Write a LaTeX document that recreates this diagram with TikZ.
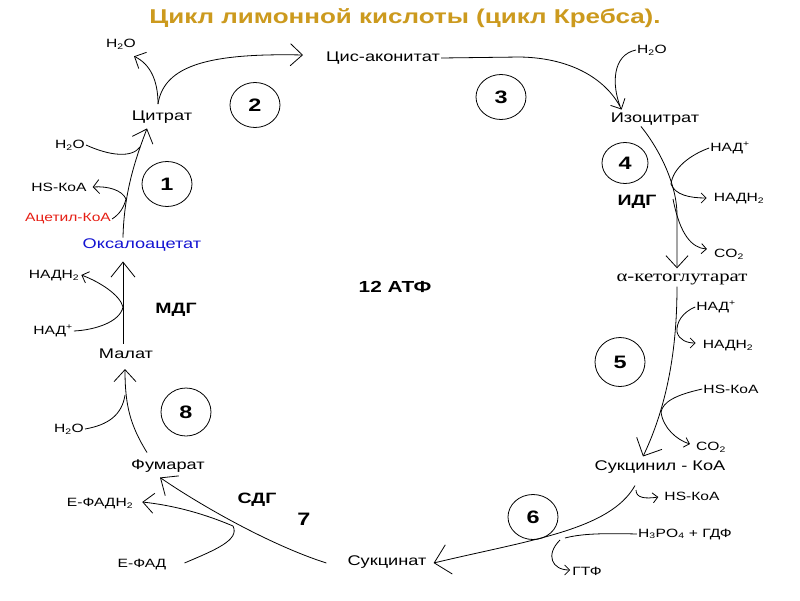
\documentclass[tikz,border=0pt]{standalone}
\usepackage{fontspec}
\setmainfont{Liberation Sans}[FakeStretch=1.3]
\newfontfamily\akgfont{Liberation Serif}[FakeStretch=1.3]
\usetikzlibrary{arrows.meta,shapes.geometric,calc}
\definecolor{titlecol}{RGB}{204,154,30}
\definecolor{acetred}{RGB}{230,30,20}
\definecolor{oxablue}{RGB}{20,20,210}
\begin{document}
\begin{tikzpicture}[x=1pt,y=-1pt,
  lab/.style={inner sep=1pt,font=\fontsize{14}{16}\selectfont},
  sm/.style={inner sep=1pt,font=\fontsize{12}{14}\selectfont},
  enz/.style={inner sep=1pt,font=\fontsize{15}{17}\selectfont\bfseries},
  numc/.style={draw,ellipse,line width=0.8pt,minimum width=50pt,minimum height=45pt,inner sep=0pt,font=\fontsize{18}{20}\selectfont\bfseries},
  ttl/.style={inner sep=0pt,font=\fontsize{20}{22}\selectfont\bfseries,text=titlecol},
  ln/.style={line width=0.8pt},
  arr/.style={ln,-{Straight Barb[length=12pt,width=22pt,line width=0.8pt]}},
  arrs/.style={ln,-{Straight Barb[length=5pt,width=10pt,line width=0.8pt]}}]
\fill[white] (0,0) rectangle (800,600);
\useasboundingbox (0,0) rectangle (800,600);

\node[ttl] (title) at (405,18) {Цикл лимонной кислоты (цикл Кребса).};

% metabolites
\node[lab] (cis) at (383,58) {Цис-аконитат};
\node[lab] (citr) at (162,117) {Цитрат};
\node[lab] (isoc) at (655,119) {Изоцитрат};
\node[lab,text=oxablue] (oxa) at (142,245) {Оксалоацетат};
\node[inner sep=1pt,font=\akgfont\fontsize{16}{18}\selectfont] (akg) at (682,279) {α-кетоглутарат};
\node[lab] (malat) at (126,354) {Малат};
\node[lab] (fum) at (168,466) {Фумарат};
\node[lab] (succoa) at (660,467) {Сукцинил - КоА};
\node[lab] (succ) at (387,562) {Сукцинат};

% side labels
\node[sm] (h2oA) at (121,44) {H\textsubscript{2}O};
\node[sm] (h2oB) at (652,50) {H\textsubscript{2}O};
\node[sm] (h2oC) at (70,145) {H\textsubscript{2}O};
\node[sm] (hsA) at (59,187) {HS-КоА};
\node[sm,text=acetred] (acet) at (68,219) {Ацетил-КоА};
\node[sm] (nadA) at (730,148) {НАД\textsuperscript{+}};
\node[sm] (nadhA) at (739,199) {НАДН\textsubscript{2}};
\node[sm] (co2A) at (729,254) {CO\textsubscript{2}};
\node[sm] (nadhL) at (54,276) {НАДН\textsubscript{2}};
\node[sm] (nadL) at (53,331) {НАД\textsuperscript{+}};
\node[sm] (nadB) at (716,307) {НАД\textsuperscript{+}};
\node[sm] (nadhB) at (728,346) {НАДН\textsubscript{2}};
\node[sm] (hsB) at (731,389) {HS-КоА};
\node[sm] (co2B) at (711,447) {CO\textsubscript{2}};
\node[sm] (h2oD) at (69,429) {H\textsubscript{2}O};
\node[sm] (hsC) at (692,496) {HS-КоА};
\node[sm] (h3po) at (685,534) {H\textsubscript{3}PO\textsubscript{4} + ГДФ};
\node[sm] (gtf) at (587,571) {ГТФ};
\node[sm] (fadh) at (100,504) {Е-ФАДН\textsubscript{2}};
\node[sm] (fad) at (142,565) {Е-ФАД};

% enzymes and numbers
\node[enz] (idg) at (637,202) {ИДГ};
\node[enz] (mdg) at (176,310) {МДГ};
\node[enz] (sdg) at (257,500) {СДГ};
\node[enz,font=\fontsize{18}{20}\selectfont\bfseries] (seven) at (304,519) {7};
\node[inner sep=1pt,font=\fontsize{16}{18}\selectfont\bfseries] (atp) at (395,287) {12 АТФ};
\node[numc] (c1) at (167,184) {1};
\node[numc] (c2) at (255,105) {2};
\node[numc] (c3) at (501,97) {3};
\node[numc,minimum width=46pt,minimum height=41pt] (c4) at (625,163) {4};
\node[numc,minimum height=49pt] (c5) at (620,362) {5};
\node[numc] (c6) at (533,517) {6};
\node[numc,minimum height=48pt] (c8) at (186,412) {8};

% junctions
\coordinate (jA) at (126,199);
\coordinate (jB) at (158,104);
\coordinate (jC) at (671,184);
\coordinate (jD) at (673,199);
\coordinate (jE) at (677,332);
\coordinate (jF) at (661,412);
\coordinate (jH) at (636,490);
\coordinate (jI) at (560,540);
\coordinate (jJ) at (233,526);
\coordinate (jK) at (123,307);

% 1: oxaloacetate -> citrate
\draw[arr] (123,0 |- oxa.north) .. controls (124,190) and (137,155) .. ($(citr.south)+(-15,4)$);
\draw[ln] (acet.east) .. controls (120,214) and (124,207) .. (jA);
\draw[arrs,-{Straight Barb[length=6pt,width=14pt,line width=0.8pt]}] (jA) .. controls (122,190) and (108,186) .. ($(hsA.east)+(5,0)$);
\draw[ln] (h2oC.east) .. controls (110,156) and (132,158) .. (140,147);

% 2: citrate -> cis-aconitate
\draw[arr] (jB) .. controls (164,65) and (210,53) .. ($(cis.west)+(-22,-3)$);
\draw[arr,-{Straight Barb[length=9pt,width=18pt,line width=0.8pt]}] (jB) .. controls (158,80) and (150,64) .. ($(h2oA.south east)+(-3,6)$);

% 3: cis-aconitate -> isocitrate
\draw[arr,-{Straight Barb[length=8pt,width=16pt,line width=0.8pt]}] (cis.east) -- (520,57) .. controls (575,58) and (608,82) .. ($(isoc.north west)+(12,-2)$);
\draw[ln] (h2oB.west) .. controls (612,55) and (612,85) .. (620,106);

% 4: isocitrate -> alpha-ketoglutarate
\draw[arr] ($(isoc.south)+(-14,0)$) .. controls (660,150) and (677,185) .. (677,215) -- ($(akg.north)+(-5,-4)$);
\draw[ln] (nadA.west) .. controls (690,155) and (673,168) .. (jC);
\draw[arrs] (jC) .. controls (675,195) and (690,198) .. ($(nadhA.west)+(-6,-1)$);
\draw[arrs] (jD) .. controls (680,235) and (692,248) .. ($(co2A.west)+(-6,-5)$);

% 5: alpha-ketoglutarate -> succinyl-CoA
\draw[arr,-{Straight Barb[length=14pt,width=28pt,line width=0.8pt]}] ($(akg.south)+(-5,1)$) .. controls (677,340) and (670,400) .. ($(succoa.north)+(-17,-3)$);
\draw[ln] (nadB.west) .. controls (683,312) and (676,322) .. (jE);
\draw[arrs] (jE) .. controls (679,340) and (687,343) .. ($(nadhB.west)+(-6,-3)$);
\draw[ln] (hsB.west) .. controls (675,395) and (663,402) .. (jF);
\draw[arrs] (jF) .. controls (663,428) and (677,440) .. ($(co2B.west)+(-5,-3)$);

% 6: succinyl-CoA -> succinate
\draw[arr,-{Straight Barb[length=15pt,width=30pt,line width=0.8pt]}] ($(succoa.south)+(-25,11)$) .. controls (610,530) and (530,540) .. ($(succ.east)+(6,1)$);
\draw[arrs] (jH) .. controls (636,498) and (645,499) .. ($(hsC.west)+(-5,1)$);
\draw[ln] (h3po.west) .. controls (600,533) and (580,534) .. (565,538);
\draw[arrs] (jI) .. controls (545,555) and (552,570) .. ($(gtf.west)+(-1,-1)$);

% 7: succinate -> fumarate
\draw[arr,-{Straight Barb[length=14pt,width=24pt,line width=0.8pt]}] ($(succ.west)+(-20,1)$) .. controls (270,545) and (200,505) .. ($(fum.south)+(-8,4)$);
\draw[arr,-{Straight Barb[length=11pt,width=20pt,line width=0.8pt]}] (jJ) .. controls (200,512) and (170,505) .. ($(fadh.east)+(8,-2)$);
\draw[ln] ($(fad.east)+(17,-2)$) .. controls (215,550) and (240,540) .. (jJ);

% 8: fumarate -> malate
\draw[arr] ($(fum.north)+(-21,-6)$) .. controls (130,425) and (125,405) .. ($(malat.south)+(-1,9)$);
\draw[ln] (h2oD.east) .. controls (108,425) and (122,415) .. (125,395);

% malate -> oxaloacetate
\draw[arr,-{Straight Barb[length=15pt,width=24pt,line width=0.8pt]}] ($(123,0 |- malat.north)+(0,-4)$) -- ($(123,0 |- oxa.south)+(0,9)$);
\draw[ln] (nadL.east) .. controls (95,330) and (120,322) .. (jK);
\draw[arrs,-{Straight Barb[length=6pt,width=12pt,line width=0.8pt]}] (jK) .. controls (120,295) and (100,282) .. ($(nadhL.east)+(1,-1)$);
\end{tikzpicture}
\end{document}
